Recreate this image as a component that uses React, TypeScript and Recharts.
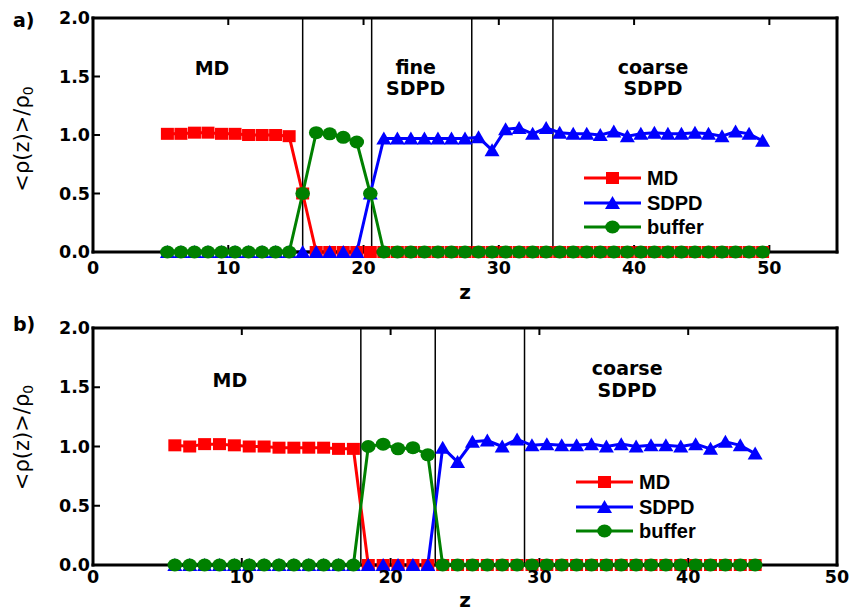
import React from 'react';
import { LineChart, Line, XAxis, YAxis, ReferenceLine, ReferenceDot, Legend } from 'recharts';

const BOLD_FONT = '"DejaVu Sans", sans-serif';
const LEGEND_FONT = '"Liberation Sans", Arial, sans-serif';
const RED = '#ff0000';
const BLUE = '#0000ff';
const GREEN = '#008000';

// ---------- panel a) ----------
const zA = [5.5, 6.5, 7.5, 8.5, 9.5, 10.5, 11.5, 12.5, 13.5, 14.5, 15.5, 16.5, 17.5, 18.5, 19.5,
  20.5, 21.5, 22.5, 23.5, 24.5, 25.5, 26.5, 27.5, 28.5, 29.5, 30.5, 31.5, 32.5, 33.5, 34.5,
  35.5, 36.5, 37.5, 38.5, 39.5, 40.5, 41.5, 42.5, 43.5, 44.5, 45.5, 46.5, 47.5, 48.5, 49.5];
const mdA = [1.01, 1.01, 1.02, 1.02, 1.01, 1.01, 1.0, 1.0, 1.0, 0.99, 0.5,
  0, 0, 0, 0, 0, 0, 0, 0, 0,
  0, 0, 0, 0, 0, 0, 0, 0, 0, 0,
  0, 0, 0, 0, 0, 0, 0, 0, 0, 0,
  0, 0, 0, 0, 0];
const sdpdA = [0, 0, 0, 0, 0, 0, 0, 0, 0, 0, 0, 0, 0, 0, 0, 0.5,
  0.97, 0.97, 0.97, 0.97, 0.97, 0.97, 0.97,
  0.98, 0.87, 1.05, 1.06, 1.01, 1.06, 1.02,
  1.01, 1.01, 1.0, 1.03, 0.99, 1.01, 1.02, 1.01, 1.01, 1.02, 1.01, 0.99, 1.03, 1.01, 0.95];
const bufA = [0, 0, 0, 0, 0, 0, 0, 0, 0, 0, 0.5, 1.02, 1.01, 0.98, 0.94, 0.5,
  0, 0, 0, 0, 0, 0, 0, 0, 0, 0,
  0, 0, 0, 0, 0, 0, 0, 0, 0, 0,
  0, 0, 0, 0, 0, 0, 0, 0, 0];
const boundariesA = [15.5, 20.6, 28, 34];

// ---------- panel b) ----------
const zB = [5.5, 6.5, 7.5, 8.5, 9.5, 10.5, 11.5, 12.5, 13.5, 14.5, 15.5, 16.5, 17.5, 18.5, 19.5,
  20.5, 21.5, 22.5, 23.5, 24.5, 25.5, 26.5, 27.5, 28.5, 29.5, 30.5, 31.5, 32.5, 33.5, 34.5,
  35.5, 36.5, 37.5, 38.5, 39.5, 40.5, 41.5, 42.5, 43.5, 44.5];
const mdB = [1.01, 1.0, 1.02, 1.02, 1.01, 1.0, 1.0, 0.99, 0.99, 0.99, 0.99, 0.98, 0.98,
  0, 0, 0, 0, 0, 0, 0, 0, 0, 0,
  0, 0, 0, 0, 0, 0, 0, 0, 0, 0,
  0, 0, 0, 0, 0, 0, 0];
const sdpdB = [0, 0, 0, 0, 0, 0, 0, 0, 0, 0, 0, 0, 0, 0, 0, 0, 0, 0,
  0.99, 0.87, 1.04, 1.05, 1.0, 1.06, 1.01, 1.02,
  1.01, 1.01, 1.02, 1.0, 1.02, 1.0, 1.01, 1.01, 1.0, 1.02, 0.98, 1.04, 1.01, 0.94];
const bufB = [0, 0, 0, 0, 0, 0, 0, 0, 0, 0, 0, 0, 0, 1.0, 1.02, 0.98, 0.99, 0.93,
  0, 0, 0, 0, 0, 0, 0, 0, 0, 0, 0,
  0, 0, 0, 0, 0, 0, 0, 0, 0, 0, 0];
const boundariesB = [18, 23, 29];

const xTicks = [0, 10, 20, 30, 40, 50];
const yTicks = [0, 0.5, 1, 1.5, 2];
const seriesNames = { md: 'MD', sdpd: 'SDPD', buffer: 'buffer' };

const buildRows = (z: number[], md: number[], sdpd: number[], buf: number[]) =>
  z.map((v, i) => ({ z: v, md: md[i], sdpd: sdpd[i], buffer: buf[i] }));

const rowsA = buildRows(zA, mdA, sdpdA, bufA);
const rowsB = buildRows(zB, mdB, sdpdB, bufB);

function marker(kind: string, cx: number, cy: number, key?: string) {
  if (kind === 'md') {
    return <rect key={key} x={cx - 6.5} y={cy - 6} width={13} height={12} fill={RED} />;
  }
  if (kind === 'sdpd') {
    return (
      <polygon
        key={key}
        points={`${cx},${cy - 7} ${cx - 7.5},${cy + 6} ${cx + 7.5},${cy + 6}`}
        fill={BLUE}
      />
    );
  }
  return <ellipse key={key} cx={cx} cy={cy} rx={7.3} ry={6.5} fill={GREEN} />;
}

const makeDot = (kind: string) => (props: any) => {
  const { cx, cy, index } = props;
  if (cx == null || cy == null) return <g key={`${kind}-e-${index}`} />;
  return marker(kind, cx, cy, `${kind}-${index}`);
};

const renderLegend = (props: any) => {
  const payload = props.payload || [];
  return (
    <div style={{ display: 'flex', flexDirection: 'column' }}>
      {payload.map((e: any, i: number) => (
        <div key={i} style={{ display: 'flex', alignItems: 'center', height: 24.5 }}>
          <svg width={57} height={20} style={{ display: 'block' }}>
            <line x1={0} x2={57} y1={10} y2={10} stroke={e.color} strokeWidth={3} />
            {marker(String(e.dataKey), 28.5, 10)}
          </svg>
          <span
            style={{
              marginLeft: 6,
              fontFamily: LEGEND_FONT,
              fontWeight: 'bold',
              fontSize: 20,
              lineHeight: '20px',
              color: '#000',
            }}
          >
            {e.value}
          </span>
        </div>
      ))}
    </div>
  );
};

type Note = { z: number; v: number; lines: string[] };

const noteShape = (lines: string[]) => (props: any) => {
  const { cx, cy } = props;
  const gap = 21.5;
  const start = cy - ((lines.length - 1) * gap) / 2;
  return (
    <g>
      {lines.map((t, i) => (
        <text
          key={i}
          x={cx}
          y={start + i * gap}
          textAnchor="middle"
          dominantBaseline="central"
          fontFamily={BOLD_FONT}
          fontWeight="bold"
          fontSize={19}
          fill="#000"
        >
          {t}
        </text>
      ))}
    </g>
  );
};

type PanelProps = {
  rows: any[];
  xMax: number;
  boundaries: number[];
  notes: Note[];
  height: number;
  marginTop: number;
  marginBottom: number;
  tickMarginX: number;
  legendLeft: number;
  legendTop: number;
  yLabelCenter: number;
  zBaseline: number;
};

function Panel(p: PanelProps) {
  const axisLine = { stroke: '#000', strokeWidth: 3, strokeLinecap: 'square' as const };
  const tickLine = { stroke: '#000', strokeWidth: 2 };
  const tickStyle = { fontFamily: BOLD_FONT, fontWeight: 'bold', fontSize: 17.5, fill: '#000' };
  const yLabel = () => (
    <text
      x={22}
      y={p.yLabelCenter}
      transform={`rotate(-90, 22, ${p.yLabelCenter})`}
      textAnchor="middle"
      dominantBaseline="central"
      fontFamily={BOLD_FONT}
      fontSize={21}
      fill="#000"
    >
      <tspan>{'<ρ(z)>/ρ'}</tspan>
      <tspan dy={6} fontSize={14}>0</tspan>
    </text>
  );
  const xLabel = (lp: any) => {
    const vb = lp && lp.viewBox ? lp.viewBox : { x: 93, y: 0, width: 744 };
    return (
      <text
        x={vb.x + vb.width / 2}
        y={vb.y + p.zBaseline}
        textAnchor="middle"
        fontFamily={BOLD_FONT}
        fontWeight="bold"
        fontSize={20}
        fill="#000"
      >
        z
      </text>
    );
  };
  return (
    <LineChart
      width={850}
      height={p.height}
      data={p.rows}
      margin={{ top: p.marginTop - 1, right: 12, bottom: p.marginBottom, left: 0 }}
    >
      <XAxis
        xAxisId="b"
        dataKey="z"
        type="number"
        domain={[0, p.xMax]}
        ticks={xTicks}
        interval={0}
        height={40}
        tickSize={-7}
        tickMargin={p.tickMarginX}
        axisLine={axisLine}
        tickLine={tickLine}
        tick={tickStyle}
        label={{ content: xLabel }}
      />
      <XAxis
        xAxisId="t"
        orientation="top"
        dataKey="z"
        type="number"
        domain={[0, p.xMax]}
        ticks={xTicks}
        interval={0}
        height={1}
        tickSize={-7}
        axisLine={axisLine}
        tickLine={tickLine}
        tickFormatter={() => ''}
      />
      <YAxis
        yAxisId="l"
        type="number"
        domain={[0, 2]}
        ticks={yTicks}
        interval={0}
        width={93}
        tickSize={-7}
        tickMargin={10}
        axisLine={axisLine}
        tickLine={tickLine}
        tick={tickStyle}
        tickFormatter={(v: number) => v.toFixed(1)}
        label={{ content: yLabel }}
      />
      <YAxis
        yAxisId="r"
        orientation="right"
        type="number"
        domain={[0, 2]}
        ticks={yTicks}
        interval={0}
        width={1}
        tickSize={-7}
        axisLine={axisLine}
        tickLine={tickLine}
        tickFormatter={() => ''}
      />
      {p.boundaries.map((b) => (
        <ReferenceLine
          key={`b-${b}`}
          x={b}
          xAxisId="b"
          yAxisId="l"
          stroke="#000"
          strokeWidth={1.5}
        />
      ))}
      <Line
        xAxisId="b"
        yAxisId="l"
        type="linear"
        dataKey="md"
        name={seriesNames.md}
        stroke={RED}
        strokeWidth={3}
        dot={makeDot('md')}
        activeDot={false}
        isAnimationActive={false}
      />
      <Line
        xAxisId="b"
        yAxisId="l"
        type="linear"
        dataKey="sdpd"
        name={seriesNames.sdpd}
        stroke={BLUE}
        strokeWidth={3}
        dot={makeDot('sdpd')}
        activeDot={false}
        isAnimationActive={false}
      />
      <Line
        xAxisId="b"
        yAxisId="l"
        type="linear"
        dataKey="buffer"
        name={seriesNames.buffer}
        stroke={GREEN}
        strokeWidth={3}
        dot={makeDot('buffer')}
        activeDot={false}
        isAnimationActive={false}
      />
      {p.notes.map((n, i) => (
        <ReferenceDot
          key={`n-${i}`}
          x={n.z}
          y={n.v}
          xAxisId="b"
          yAxisId="l"
          r={0}
          shape={noteShape(n.lines)}
        />
      ))}
      <Legend
        layout="horizontal"
        verticalAlign="middle"
        align="center"
        content={renderLegend}
        wrapperStyle={{ left: p.legendLeft, top: p.legendTop, width: 200, right: 'auto', bottom: 'auto' }}
      />
    </LineChart>
  );
}

const notesA: Note[] = [
  { z: 8.8, v: 1.57, lines: ['MD'] },
  { z: 23.85, v: 1.49, lines: ['fine', 'SDPD'] },
  { z: 41.4, v: 1.49, lines: ['coarse', 'SDPD'] },
];
const notesB: Note[] = [
  { z: 9.2, v: 1.56, lines: ['MD'] },
  { z: 35.9, v: 1.57, lines: ['coarse', 'SDPD'] },
];

export default function App() {
  return (
    <div
      style={{
        position: 'absolute',
        left: 0,
        top: 0,
        width: 850,
        height: 613,
        background: '#fff',
        overflow: 'hidden',
      }}
    >
      <div style={{ position: 'absolute', left: 0, top: 0 }}>
        <Panel
          rows={rowsA}
          xMax={55}
          boundaries={boundariesA}
          notes={notesA}
          height={312}
          marginTop={18}
          marginBottom={20}
          tickMarginX={17}
          legendLeft={584}
          legendTop={165.75}
          yLabelCenter={139}
          zBaseline={47}
        />
      </div>
      <div style={{ position: 'absolute', left: 0, top: 300 }}>
        <Panel
          rows={rowsB}
          xMax={50}
          boundaries={boundariesB}
          notes={notesB}
          height={313}
          marginTop={28}
          marginBottom={8}
          tickMarginX={13}
          legendLeft={576}
          legendTop={169.75}
          yLabelCenter={137.5}
          zBaseline={42}
        />
      </div>
      <svg
        width={850}
        height={613}
        style={{ position: 'absolute', left: 0, top: 0, pointerEvents: 'none' }}
      >
        <text x={13} y={27} fontFamily={BOLD_FONT} fontWeight="bold" fontSize={19} fill="#000">a)</text>
        <text x={13} y={331} fontFamily={BOLD_FONT} fontWeight="bold" fontSize={19} fill="#000">b)</text>
      </svg>
    </div>
  );
}
